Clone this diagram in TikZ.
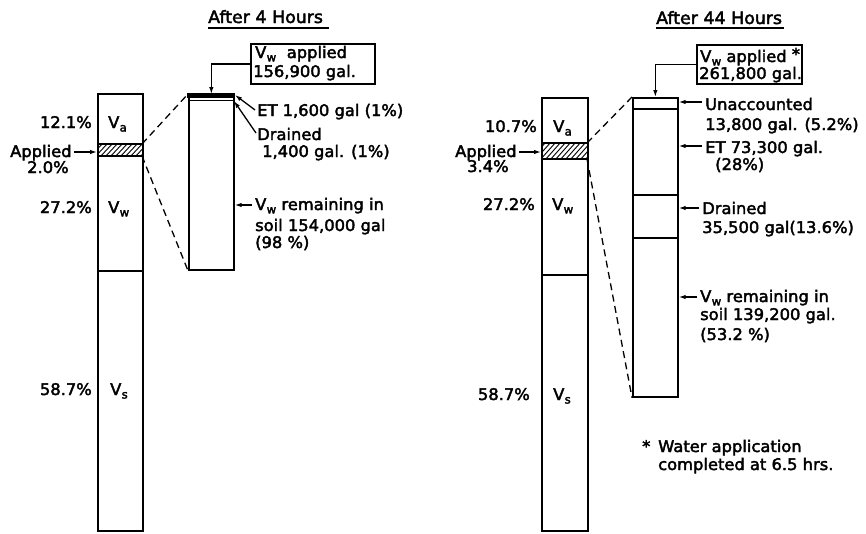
\documentclass[tikz,border=0pt]{standalone}
\usepackage{fontspec}
\setmainfont{DejaVu Sans}[FakeStretch=1.02,FakeBold=2.5]
\usetikzlibrary{arrows.meta}
\newcommand{\Vsub}[1]{V\kern0.3pt\raisebox{-0.4ex}{\fontsize{11.5}{12}\selectfont #1}}
\begin{document}
\begin{tikzpicture}[x=1pt,y=-1pt,
  lbl/.style={inner sep=0pt, font=\fontsize{16}{19}\selectfont, anchor=base west},
  lblr/.style={lbl, anchor=base east},
  ttl/.style={lbl, font=\fontsize{17}{20}\selectfont},
  colbox/.style={draw, line width=1.7pt, inner sep=0pt, anchor=north west},
  divline/.style={line width=1.6pt},
  arr/.style={line width=1.3pt, -{Latex[length=7pt,width=4.5pt]}},
  dsh/.style={line width=1.3pt, dash pattern=on 7pt off 4.5pt},
  uline/.style={line width=1.4pt},
  ]
\useasboundingbox[fill=white] (0,0) rectangle (866,533);

% ---------- columns ----------
\node[colbox, minimum width=45pt, minimum height=437pt] (c1) at (97,93) {};
\node[colbox, minimum width=45pt, minimum height=175pt] (c2) at (188,94) {};
\node[colbox, minimum width=46pt, minimum height=433pt] (c3) at (541,97) {};
\node[colbox, minimum width=45pt, minimum height=299pt] (c4) at (632,97) {};

% column 1 layers
\coordinate (c1a) at (97,144); \coordinate (c1b) at (142,144);
\coordinate (c1c) at (97,156); \coordinate (c1d) at (142,156);
\begin{scope}
  \clip (c1a) rectangle (c1d);
  \foreach \x in {80,85,...,150} \draw[line width=0.9pt] (\x,157) -- (\x+13,143);
\end{scope}
\draw[divline] (c1a) -- (c1b);
\draw[divline] (c1c) -- (c1d);
\draw[divline] (97,271) -- (142,271);

% column 2 top band
\fill (187,92.5) rectangle (235,97.5);
\draw[line width=1.4pt] (188,100.5) -- (234,100.5);

% column 3 layers
\coordinate (c3a) at (541,143); \coordinate (c3b) at (587,143);
\coordinate (c3c) at (541,159); \coordinate (c3d) at (587,159);
\begin{scope}
  \clip (c3a) rectangle (c3d);
  \foreach \x in {525,530,...,600} \draw[line width=0.9pt] (\x,160) -- (\x+16,142);
\end{scope}
\draw[divline] (c3a) -- (c3b);
\draw[divline] (c3c) -- (c3d);
\draw[divline] (541,275) -- (587,275);

% column 4 layers
\draw[divline] (632,109) -- (677,109);
\draw[divline] (632,195) -- (677,195);
\draw[divline] (632,238) -- (677,238);

% ---------- dashed expansion lines ----------
\draw[dsh] (c1b) -- (c2.north west);
\draw[dsh] (c1d) -- (c2.south west);
\draw[dsh] (c3b) -- (c4.north west);
\draw[dsh] (c3d) -- (c4.south west);

% ---------- titles ----------
\node[ttl] (t1) at (208,23) {After\,\,4\,\,Hours};
\draw[uline] (t1.base west) ++(0,5) -- ++(121,0);
\node[ttl] (t2) at (656,24) {After\,\,44\,\,Hours};
\draw[uline] (t2.base west) ++(0,4) -- ++(128,0);

% ---------- applied boxes ----------
\node[colbox, minimum width=124pt, minimum height=40pt] (b2) at (250,43) {};
\node[lbl] (b2a) at (255,58) {\Vsub{w}\,\, applied};
\node[lbl] (b2b) at (253,77) {156,900 gal.};
\draw[arr] (b2.west) -| (c2.north);

\node[colbox, minimum width=105pt, minimum height=39pt] (b4) at (696,44) {};
\node[lbl] (b4a) at (700,62) {\Vsub{w} applied \raisebox{0.25ex}{*}};
\node[lbl] (b4b) at (699,79) {261,800 gal.};
\draw[arr] (b4.west) -| (c4.north);

% ---------- column 1 labels ----------
\node[lblr] (p11) at (92,128) {12.1\%};
\node[lbl] (v11) at (108,128) {\Vsub{a}};
\node[lbl] (ap1) at (10,157) {Applied};
\node[lbl] (ap1b) at (27,173) {2.0\%};
\draw[arr] ([xshift=2pt,yshift=5pt]ap1.base east) -- (c1.west |- 0,152);
\node[lblr] (p12) at (92,213) {27.2\%};
\node[lbl] (v12) at (108,213) {\Vsub{w}};
\node[lblr] (p13) at (92,395) {58.7\%};
\node[lbl] (v13) at (110,395) {\Vsub{s}};

% ---------- column 2 labels ----------
\node[lbl] (et2) at (257,116) {ET 1,600 gal (1\%)};
\node[lbl] (dr2) at (257,140) {Drained};
\node[lbl] (dr2b) at (262,157) {1,400 gal. (1\%)};
\coordinate (et2s) at (255,110);
\coordinate (et2t) at (235,95);
\draw[arr] (et2s) -- (et2t);
\coordinate (dr2s) at (256,133);
\coordinate (dr2t) at (234,101);
\draw[arr] (dr2s) -- (dr2t);
\coordinate (rm2s) at (252,205);
\draw[arr] (rm2s) -- (c2.east |- rm2s);
\node[lbl] (rm2a) at (255,210) {\Vsub{w} remaining in};
\node[lbl] (rm2b) at (255,231) {soil 154,000 gal};
\node[lbl] (rm2c) at (255,248) {(98 \%)};

% ---------- column 3 labels ----------
\node[lblr] (p31) at (537,132) {10.7\%};
\node[lbl] (v31) at (553,132) {\Vsub{a}};
\node[lbl] (ap3) at (455,157) {Applied};
\node[lbl] (ap3b) at (467,172) {3.4\%};
\draw[arr] ([xshift=2pt,yshift=5pt]ap3.base east) -- (c3.west |- 0,152);
\node[lblr] (p32) at (535,210) {27.2\%};
\node[lbl] (v32) at (552,210) {\Vsub{w}};
\node[lblr] (p33) at (530,400) {58.7\%};
\node[lbl] (v33) at (553,400) {\Vsub{s}};

% ---------- column 4 labels ----------
\coordinate (un4) at (702,102);
\draw[arr] (un4) -- (c4.east |- un4);
\node[lbl] (un4a) at (705,110) {Unaccounted};
\node[lbl] (un4b) at (705,130) {13,800 gal. (5.2\%)};
\coordinate (et4) at (702,146);
\draw[arr] (et4) -- (c4.east |- et4);
\node[lbl] (et4a) at (705,153) {ET 73,300 gal.};
\node[lbl] (et4b) at (715,170) {(28\%)};
\coordinate (dr4) at (699,208);
\draw[arr] (dr4) -- (c4.east |- dr4);
\node[lbl] (dr4a) at (702,214) {Drained};
\node[lbl] (dr4b) at (702,233) {35,500 gal(13.6\%)};
\coordinate (rm4) at (697,297);
\draw[arr] (rm4) -- (c4.east |- rm4);
\node[lbl] (rm4a) at (700,302) {\Vsub{w} remaining in};
\node[lbl] (rm4b) at (700,320) {soil 139,200 gal.};
\node[lbl] (rm4c) at (700,340) {(53.2 \%)};

% ---------- footnote ----------
\node[lbl] (fn0) at (642,452) {*};
\node[lbl] (fn1) at (658,452) {Water application};
\node[lbl] (fn2) at (658,470) {completed at 6.5 hrs.};
\end{tikzpicture}
\end{document}
